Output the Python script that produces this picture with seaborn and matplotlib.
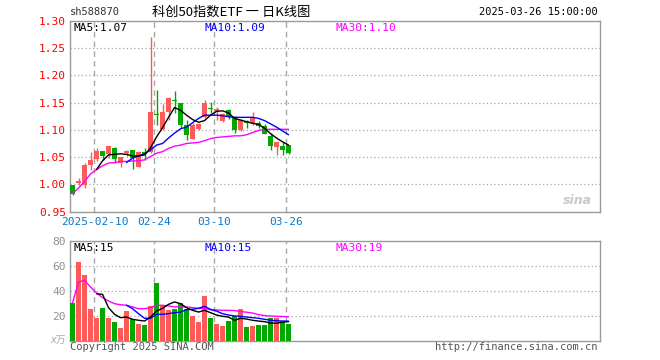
import matplotlib
matplotlib.use("Agg")
import matplotlib.pyplot as plt
import seaborn as sns
import numpy as np
import pandas as pd

# ---------------------------------------------------------------------------
# data (sh588870)
# ---------------------------------------------------------------------------
dates = ["2025-01-27", "2025-02-05", "2025-02-06", "2025-02-07",
         "2025-02-10", "2025-02-11", "2025-02-12", "2025-02-13", "2025-02-14",
         "2025-02-17", "2025-02-18", "2025-02-19", "2025-02-20", "2025-02-21",
         "2025-02-24", "2025-02-25", "2025-02-26", "2025-02-27", "2025-02-28",
         "2025-03-03", "2025-03-04", "2025-03-05", "2025-03-06", "2025-03-07",
         "2025-03-10", "2025-03-11", "2025-03-12", "2025-03-13", "2025-03-14",
         "2025-03-17", "2025-03-18", "2025-03-19", "2025-03-20", "2025-03-21",
         "2025-03-24", "2025-03-25", "2025-03-26"]

opens = [0.999, 1.002, 0.999, 1.036, 1.046, 1.062, 1.055, 1.067, 1.040, 1.057,
         1.063, 1.032, 1.059, 1.060, 1.130, 1.102, 1.132, 1.155, 1.150, 1.109,
         1.084, 1.101, 1.123, 1.140, 1.134, 1.117, 1.136, 1.123, 1.099, 1.117,
         1.112, 1.112, 1.108, 1.089, 1.069, 1.070, 1.072]
closes = [0.983, 1.006, 1.036, 1.045, 1.062, 1.052, 1.070, 1.046, 1.050, 1.061,
          1.049, 1.060, 1.055, 1.133, 1.128, 1.133, 1.159, 1.153, 1.109, 1.091,
          1.109, 1.110, 1.150, 1.138, 1.139, 1.129, 1.123, 1.099, 1.119, 1.112,
          1.121, 1.108, 1.092, 1.070, 1.077, 1.063, 1.058]
highs = [0.999, 1.011, 1.039, 1.060, 1.066, 1.062, 1.071, 1.069, 1.051, 1.063,
         1.063, 1.061, 1.066, 1.271, 1.173, 1.147, 1.161, 1.172, 1.150, 1.118,
         1.112, 1.112, 1.154, 1.152, 1.142, 1.131, 1.138, 1.125, 1.120, 1.118,
         1.133, 1.117, 1.111, 1.095, 1.078, 1.077, 1.072]
lows = [0.980, 0.999, 0.993, 1.026, 1.042, 1.045, 1.048, 1.040, 1.032, 1.052,
        1.029, 1.031, 1.045, 1.058, 1.109, 1.100, 1.118, 1.131, 1.103, 1.081,
        1.083, 1.099, 1.121, 1.131, 1.118, 1.115, 1.120, 1.094, 1.097, 1.103,
        1.109, 1.103, 1.092, 1.063, 1.054, 1.054, 1.055]

ma5 = [1.027, 1.043, 1.054, 1.055, 1.056, 1.055, 1.052, 1.052, 1.054, 1.067,
       1.087, 1.104, 1.123, 1.141, 1.136, 1.127, 1.119, 1.114, 1.117, 1.127,
       1.134, 1.135, 1.131, 1.121, 1.118, 1.115, 1.112, 1.110, 1.103, 1.093,
       1.085, 1.078, 1.072]
ma10 = [1.040, 1.048, 1.052, 1.056, 1.063, 1.072, 1.075, 1.085, 1.094, 1.102,
        1.105, 1.113, 1.121, 1.127, 1.127, 1.127, 1.126, 1.124, 1.123, 1.123,
        1.123, 1.123, 1.121, 1.117, 1.111, 1.105, 1.098, 1.091]
ma30 = [0.983, 0.993, 1.005, 1.019, 1.027, 1.034, 1.039, 1.040, 1.042, 1.042,
        1.043, 1.043, 1.045, 1.051, 1.057, 1.060, 1.066, 1.070, 1.072, 1.075,
        1.076, 1.077, 1.080, 1.084, 1.086, 1.087, 1.088, 1.089, 1.089, 1.091,
        1.095, 1.099, 1.101, 1.101, 1.101, 1.101, 1.101]

volumes = [30.1, 62.9, 52.5, 25.5, 18.3, 26.3, 18.3, 14.8, 10.3, 23.6,
           17.5, 13.5, 12.7, 27.7, 46.3, 27.7, 24.2, 25.5, 30.1, 25.5,
           19.6, 14.8, 35.7, 18.3, 13.2, 11.6, 15.6, 19.6, 25.5, 10.8,
           11.6, 12.2, 12.7, 18.0, 18.0, 14.8, 13.2]
vol_ma5 = [37.5, 37.0, 26.3, 21.0, 18.3, 18.8, 17.0, 16.2, 15.6, 18.8,
           23.6, 25.8, 29.0, 30.9, 29.5, 26.3, 24.2, 22.8, 24.2, 22.3,
           20.4, 19.4, 18.8, 16.2, 17.8, 17.2, 16.2, 15.6, 15.1, 14.0,
           13.8, 14.8, 15.1]
vol_ma10 = [28.3, 25.5, 21.5, 17.8, 17.8, 21.0, 21.0, 21.5, 22.3, 22.8,
            24.7, 25.0, 25.8, 27.4, 25.0, 23.6, 21.5, 20.4, 19.7, 19.4,
            18.8, 18.3, 17.8, 17.0, 16.2, 15.8, 15.6, 15.5]
vol_ma30 = [30.1, 46.9, 48.2, 42.9, 38.1, 34.3, 31.7, 29.5, 28.7, 28.2,
            26.9, 25.5, 25.5, 26.3, 28.2, 28.2, 27.7, 26.9, 26.9, 26.9,
            26.4, 25.7, 25.7, 24.7, 24.5, 24.2, 24.2, 24.0, 23.2, 22.7,
            22.0, 20.7, 20.0, 19.6, 19.4, 19.2, 19.0]

label_dates = ["2025-02-10", "2025-02-24", "2025-03-10", "2025-03-26"]
label_texts = ["2025-02-10", "02-24", "03-10", "03-26"]
price_ticks = [0.95, 1.00, 1.05, 1.10, 1.15, 1.20, 1.25, 1.30]
vol_ticks = [20, 40, 60, 80]

# ---------------------------------------------------------------------------
RED = "#ff5a5a"
GREEN = "#00a800"
GRID = "#a8a8a8"
FRAME = "#9a9a9a"

sns.set_style("white")
plt.rcParams['font.family'] = ['DejaVu Sans Mono', 'Noto Sans CJK SC']

n = len(closes)
x = np.arange(n)
df = pd.DataFrame({"date": dates, "open": opens, "close": closes,
                   "high": highs, "low": lows, "vol": volumes})
df["dir"] = np.where(df["close"] >= df["open"], "up", "down")
colors = [RED if d == "up" else GREEN for d in df["dir"]]

fig = plt.figure(figsize=(6.6, 3.6), dpi=100)
W, H = 660, 360
ax1 = fig.add_axes([70 / W, 1 - 211.5 / H, 530 / W, 190.5 / H])
ax2 = fig.add_axes([70 / W, 1 - 340.5 / H, 530 / W, 99.8 / H])

tick_pos = [dates.index(d) - 0.35 for d in label_dates]
xlim = (-0.42, 87.9)

# --- price panel ---
ax1.vlines(x, df["low"], df["high"], colors=colors, lw=1.0, zorder=3)
body_lo = np.minimum(df["open"], df["close"])
body_h = np.maximum(np.abs(df["close"] - df["open"]), 0.0012)
ax1.bar(x, body_h, bottom=body_lo, width=0.8, color=colors, lw=0, zorder=4)

sns.lineplot(x=x[n - len(ma30):], y=ma30, color="#ff00ff", lw=1.0, ax=ax1, zorder=5)
sns.lineplot(x=x[n - len(ma10):], y=ma10, color="#0000ff", lw=1.0, ax=ax1, zorder=5)
sns.lineplot(x=x[n - len(ma5):], y=ma5, color="black", lw=1.0, ax=ax1, zorder=5)

ax1.set_ylim(price_ticks[0], price_ticks[-1])
ax1.set_yticks(price_ticks)
ax1.set_yticklabels([f"{t:.2f}" for t in price_ticks], color="red", fontsize=8)
for t in price_ticks[1:-1]:
    ax1.axhline(t, color=GRID, lw=0.9, ls=(0, (1, 2)), zorder=1)

# --- volume panel ---
sns.barplot(x=x, y=df["vol"], hue=df["dir"], palette={"up": RED, "down": GREEN},
            native_scale=True, dodge=False, width=0.8, saturation=1,
            legend=False, linewidth=0, ax=ax2, zorder=3)
sns.lineplot(x=x[n - len(vol_ma30):], y=vol_ma30, color="#ff00ff", lw=1.0, ax=ax2, zorder=5)
sns.lineplot(x=x[n - len(vol_ma10):], y=vol_ma10, color="#0000ff", lw=1.0, ax=ax2, zorder=5)
sns.lineplot(x=x[n - len(vol_ma5):], y=vol_ma5, color="black", lw=1.0, ax=ax2, zorder=5)

ax2.set_ylim(0, 80)
ax2.set_yticks(vol_ticks)
ax2.set_yticklabels([str(t) for t in vol_ticks], color="#909090", fontsize=8)
for t in vol_ticks[:-1]:
    ax2.axhline(t, color=GRID, lw=0.9, ls=(0, (1, 2)), zorder=1)

for ax in (ax1, ax2):
    ax.set_xlim(*xlim)
    ax.set_xlabel("")
    ax.set_ylabel("")
    for p in tick_pos:
        ax.axvline(p, color=GRID, lw=1.0, ls=(0, (4, 3)), zorder=1)
    for s in ax.spines.values():
        s.set_color(FRAME)
        s.set_linewidth(1.0)
    ax.tick_params(axis="both", length=0, pad=3)

ax1.set_xticks(tick_pos)
ax1.set_xticklabels(label_texts, color="#0a78c8", fontsize=8)
ax1.tick_params(axis="x", pad=4)
ax2.set_xticks([])

# --- texts ---
fig.text(70 / W, 1 - 12 / H, "sh588870", fontsize=7.5, color="#333333", va="center")
fig.text(231 / W, 1 - 12 / H, "科创50指数ETF 一 日K线图", fontsize=9.5,
         family=['Noto Sans CJK SC', 'DejaVu Sans'], color="black",
         ha="center", va="center")
fig.text(598 / W, 1 - 12 / H, "2025-03-26 15:00:00", fontsize=7.5,
         color="black", ha="right", va="center")

ax1.text(0.006, 0.965, f"MA5:{ma5[-1]:.2f}", transform=ax1.transAxes,
         fontsize=8, color="black", va="center")
ax1.text(0.253, 0.965, f"MA10:{ma10[-1]:.2f}", transform=ax1.transAxes,
         fontsize=8, color="#0000ff", va="center")
ax1.text(0.5, 0.965, f"MA30:{ma30[-1]:.2f}", transform=ax1.transAxes,
         fontsize=8, color="#ff00ff", va="center")
ax2.text(0.006, 0.93, f"MA5:{int(vol_ma5[-1])}", transform=ax2.transAxes,
         fontsize=8, color="black", va="center")
ax2.text(0.253, 0.93, f"MA10:{int(vol_ma10[-1])}", transform=ax2.transAxes,
         fontsize=8, color="#0000ff", va="center")
ax2.text(0.5, 0.93, f"MA30:{int(vol_ma30[-1])}", transform=ax2.transAxes,
         fontsize=8, color="#ff00ff", va="center")

fig.text(66 / W, 1 - 340 / H, "x万", fontsize=7, color="#aaaaaa", ha="right",
         va="center", style="italic", family=['DejaVu Sans', 'Noto Sans CJK SC'])
fig.text(70 / W, 1 - 347 / H, "Copyright 2025 SINA.COM", fontsize=7.5,
         color="#555555", va="center")
fig.text(598 / W, 1 - 347 / H, "http://finance.sina.com.cn", fontsize=7.5,
         color="#555555", ha="right", va="center")
ax1.text(0.985, 0.06, "sina", transform=ax1.transAxes, fontsize=9,
         fontweight="bold", style="italic", color="#c8c8c8",
         family="DejaVu Sans", ha="right", va="center")

fig.savefig("out.png", dpi=100)
